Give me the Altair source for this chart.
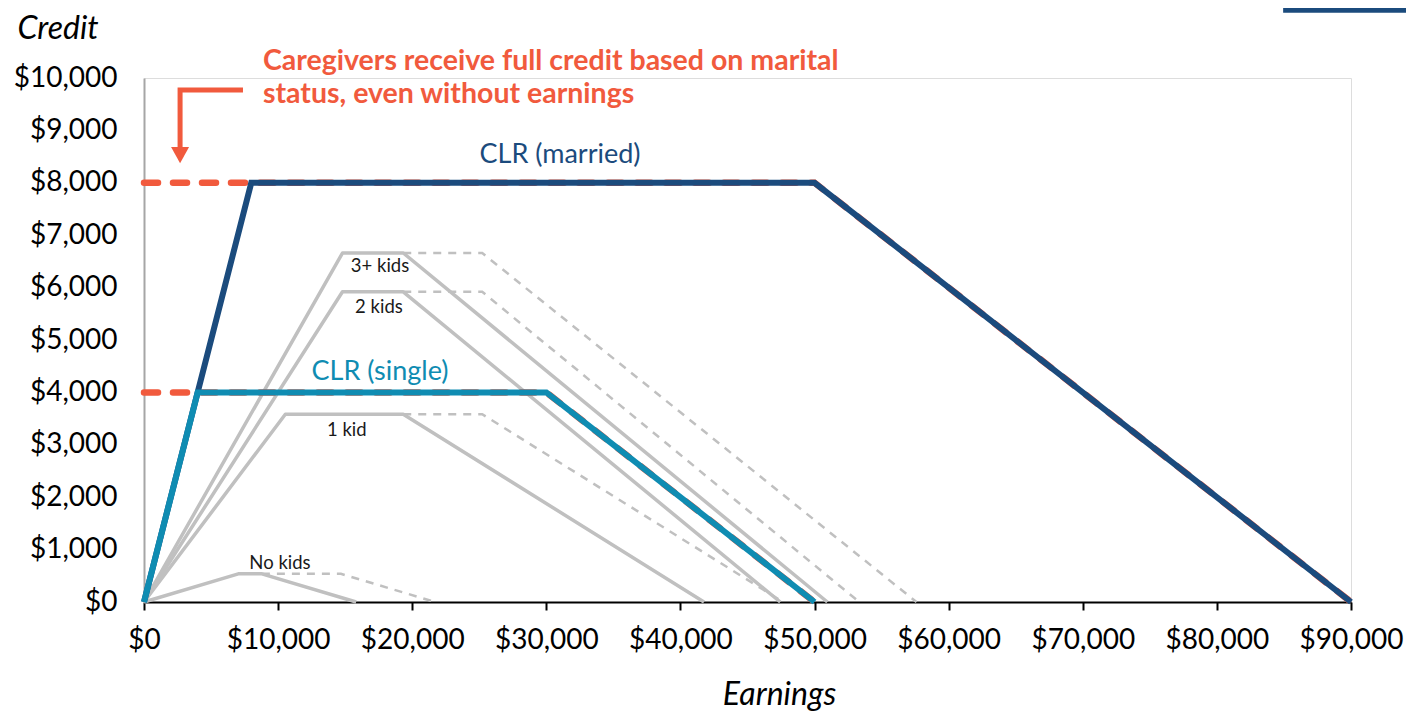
import altair as alt
import pandas as pd

# ---------------- data ----------------
x_ticks = [0, 10000, 20000, 30000, 40000, 50000, 60000, 70000, 80000, 90000]
y_ticks = [0, 1000, 2000, 3000, 4000, 5000, 6000, 7000, 8000, 9000, 10000]

# CLR schedules
clr_married_x = [0, 8000, 50000, 90000]
clr_married_y = [0, 8000, 8000, 0]
clr_single_x = [0, 4000, 30000, 50000]
clr_single_y = [0, 4000, 4000, 0]

# Caregiver full credit (dashed)
care_married_x = [0, 50000, 90000]
care_married_y = [8000, 8000, 0]
care_single_x = [0, 30000, 50000]
care_single_y = [4000, 4000, 0]

# EITC single filers (solid grey)
eitc0_x = [0, 7030, 8790, 15820]
eitc0_y = [0, 538, 538, 0]
eitc1_x = [0, 10540, 19330, 41756]
eitc1_y = [0, 3584, 3584, 0]
eitc2_x = [0, 14800, 19330, 47440]
eitc2_y = [0, 5920, 5920, 0]
eitc3_x = [0, 14800, 19330, 50954]
eitc3_y = [0, 6660, 6660, 0]

# EITC married filers extension (dashed grey)
eitc0m_x = [8790, 14680, 21710]
eitc0m_y = [538, 538, 0]
eitc1m_x = [19330, 25220, 47646]
eitc1m_y = [3584, 3584, 0]
eitc2m_x = [19330, 25220, 53330]
eitc2m_y = [5920, 5920, 0]
eitc3m_x = [19330, 25220, 57600]
eitc3m_y = [6660, 6660, 0]

# labels
kid_labels = ["3+ kids", "2 kids", "1 kid", "No kids"]
kid_label_x = [17600, 17520, 15120, 10140]
kid_label_y = [6410, 5630, 3280, 750]

clr_labels = ["CLR (married)", "CLR (single)"]
clr_label_x = [31020, 17600]
clr_label_y = [8530, 4395]
clr_label_colors = ["#1b4b7d", "#0f8cb2"]

note_lines = ["Caregivers receive full credit based on marital",
              "status, even without earnings"]
note_x = [8870, 8870]
note_y = [10325, 9695]

arrow_x = [7380, 2690, 2690]
arrow_y = [9770, 9770, 8650]
arrow_head_x = [2690]
arrow_head_y = [8530]

# top-right decorative bar
bar_x = [84940]
bar_x2 = [96000]
bar_y = [11340]
bar_y2 = [11245]

ORANGE = "#f15a3d"
NAVY = "#1b4b7d"
TEAL = "#0f8cb2"
GREY = "#c0c0c0"
FONT = "Lato"


def frame(name, xs, ys):
    return pd.DataFrame({"series": name, "x": xs, "y": ys, "order": list(range(len(xs)))})


solid_grey = pd.concat([frame("0", eitc0_x, eitc0_y), frame("1", eitc1_x, eitc1_y),
                        frame("2", eitc2_x, eitc2_y), frame("3", eitc3_x, eitc3_y)])
dashed_grey = pd.concat([frame("0m", eitc0m_x, eitc0m_y), frame("1m", eitc1m_x, eitc1m_y),
                         frame("2m", eitc2m_x, eitc2m_y), frame("3m", eitc3m_x, eitc3m_y)])
care = pd.concat([frame("cm", care_married_x, care_married_y),
                  frame("cs", care_single_x, care_single_y)])
married = frame("m", clr_married_x, clr_married_y)
single = frame("s", clr_single_x, clr_single_y)
arrow = frame("a", arrow_x, arrow_y)
head = pd.DataFrame({"x": arrow_head_x, "y": arrow_head_y})
kid_df = pd.DataFrame({"label": kid_labels, "x": kid_label_x, "y": kid_label_y})
clr_df = pd.DataFrame({"label": clr_labels, "x": clr_label_x, "y": clr_label_y, "c": clr_label_colors})
note_df = pd.DataFrame({"label": note_lines, "x": note_x, "y": note_y})
bar_df = pd.DataFrame({"x": bar_x, "x2": bar_x2, "y": bar_y, "y2": bar_y2})

xscale = alt.Scale(domain=[0, 90000], nice=False, zero=False)
yscale = alt.Scale(domain=[0, 10000], nice=False, zero=False)

xaxis = alt.Axis(values=x_ticks, format="$,.0f", title="Earnings", grid=False,
                 domainColor="black", domainWidth=2, tickColor="black", tickWidth=2,
                 tickSize=8, labelFontSize=28, labelColor="black", labelPadding=16,
                 labelFlush=False, labelFont=FONT, titleFont=FONT,
                 titleFontSize=32, titleFontStyle="italic", titleFontWeight="normal",
                 titleColor="black", titleX=635, titleY=92, titleAlign="center",
                 titleBaseline="middle")
yaxis = alt.Axis(values=y_ticks, format="$,.0f", title="Credit", grid=False, ticks=False,
                 domainColor="#a6a6a6", domainWidth=2, labelFontSize=28, labelColor="black",
                 labelPadding=27, labelFont=FONT, titleFont=FONT, titleFontSize=32,
                 titleFontStyle="italic", titleFontWeight="normal", titleColor="black",
                 titleAngle=0, titleX=-127, titleY=-50, titleAlign="left",
                 titleBaseline="middle")


def X(field="x"):
    return alt.X(f"{field}:Q", scale=xscale, axis=xaxis)


def Y(field="y"):
    return alt.Y(f"{field}:Q", scale=yscale, axis=yaxis)


def line_layer(df, **mark):
    return alt.Chart(df).mark_line(**mark).encode(
        x=X(), y=Y(), detail="series:N", order="order:Q")


layers = [
    line_layer(solid_grey, color=GREY, strokeWidth=3.5, strokeJoin="round"),
    line_layer(dashed_grey, color=GREY, strokeWidth=2.5, strokeDash=[8, 7]),
    line_layer(care, color=ORANGE, strokeWidth=6.5, strokeDash=[14, 15], strokeCap="round"),
    line_layer(married, color=NAVY, strokeWidth=6, strokeJoin="miter"),
    line_layer(single, color=TEAL, strokeWidth=6, strokeJoin="miter"),
    line_layer(arrow, color=ORANGE, strokeWidth=5, strokeJoin="miter", strokeCap="butt", clip=False),
    alt.Chart(head).mark_point(shape="M-1,-0.9L1,-0.9L0,0.9Z", size=324, filled=True,
                               color=ORANGE, opacity=1, clip=False).encode(x=X(), y=Y()),
    alt.Chart(kid_df).mark_text(font=FONT, fontSize=18.5, color="#1a1a1a", align="center",
                                baseline="middle").encode(x=X(), y=Y(), text="label:N"),
    alt.Chart(clr_df).mark_text(font=FONT, fontSize=27, align="center",
                                baseline="middle").encode(
        x=X(), y=Y(), text="label:N", color=alt.Color("c:N", scale=None)),
    alt.Chart(note_df).mark_text(font=FONT, fontSize=28.5, fontWeight="bold", color=ORANGE,
                                 align="left", baseline="middle").encode(
        x=X(), y=Y(), text="label:N"),
    alt.Chart(bar_df).mark_rect(color=NAVY, clip=False).encode(
        x=X(), x2="x2:Q", y=Y(), y2="y2:Q"),
]

chart = alt.layer(*layers).properties(
    width=1207, height=524,
    autosize=alt.AutoSizeParams(type="none"),
    padding={"left": 136, "top": 70, "right": 55, "bottom": 112},
).configure_view(stroke=None).configure(font=FONT)

chart.save("out.html", embed_options={"renderer": "svg", "actions": False})
